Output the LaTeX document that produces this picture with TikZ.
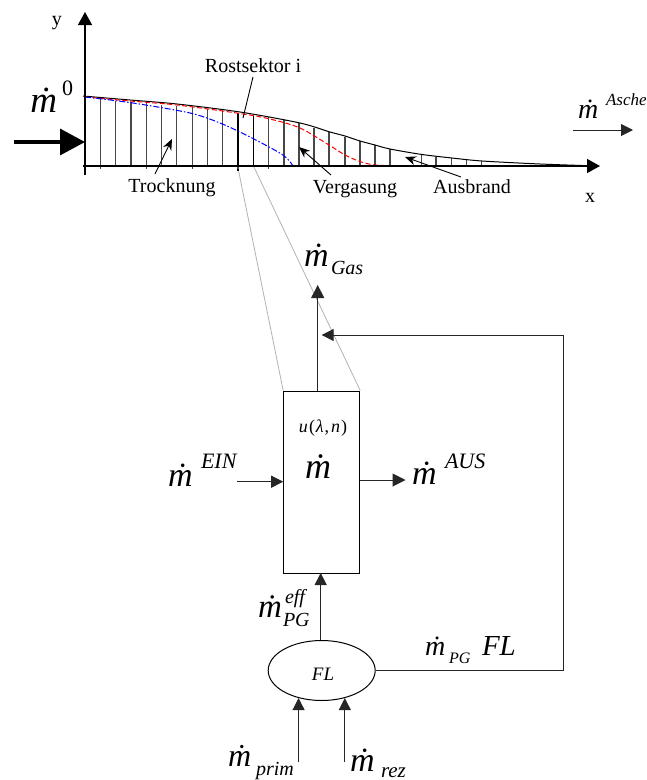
\documentclass[tikz,border=0pt]{standalone}
\usepackage{fontspec}
\setmainfont{Liberation Serif}
\usetikzlibrary{arrows.meta,shapes.geometric}
\newcommand{\fs}[1]{\fontsize{#1}{#1}\selectfont}
\newcommand{\mdt}[1]{{\fs{#1}\textit{\.{m}}}}
\tikzset{
  lbl/.style={anchor=base west,inner sep=0pt,outer sep=0pt},
  txt/.style={anchor=base,inner sep=0pt},
  ln/.style={line width=1pt,black!85},
  arr/.style={ln,-{Triangle[length=12pt,width=12pt]}},
  axisl/.style={line width=1.4pt,black,-{Triangle[length=13pt,width=14pt]}},
  tickl/.style={line width=1.15pt,black!72},
  thin1/.style={line width=0.9pt,black,-{Stealth[length=11pt,width=9pt]}},
  gry/.style={line width=0.8pt,black!30},
}
\begin{document}
\begin{tikzpicture}[x=1pt,y=-1pt]
\useasboundingbox (0,0) rectangle (647,780);
% axes
\coordinate (ystart) at (85,175);
\coordinate (ytip) at (85,12);
\coordinate (xstart) at (83,166);
\coordinate (xtip) at (600,166);
% gray zoom lines
\coordinate (s1) at (238,168);
\coordinate (s2) at (253,165);
\node[draw=black,line width=1pt,minimum width=76pt,minimum height=182pt,inner sep=0pt] (box) at (321.7,482) {};
\draw[gry] (s1) -- (box.north west);
\draw[gry] (s2) -- (box.north east);
% ticks
\foreach \x/\t in {100.4/99,115.7/101,131/102,146.3/103,161.6/104.5,176.9/106,192.2/107,207.5/108.5,222.8/110,299/123,314/127.5,329/132,345/136.5,360/141,375/145,390/149,421.7/154.5,436/156.5,451.7/158,466.7/159.5,481.7/161}{
  \draw[tickl] (\x,166) -- (\x,\t);
}
\draw[line width=1.6pt,black] (238,171) -- (238,113);
\draw[line width=1.6pt,black] (253.3,166) -- (253.3,116);
\draw[tickl] (268.7,166) -- (268.7,117);
\draw[tickl] (284,166) -- (284,120);
\foreach \x in {100.4,146.3,192.2,238,268.7}{\draw[tickl] (\x,166) -- (\x,169);}
% curves
\draw[line width=1pt,black] plot[smooth,tension=0.5] coordinates {(83,96) (130,100) (177,104) (240,112) (300,123) (330,132) (345,136) (360,141) (375,145) (390,149) (422,154.5) (452,158) (482,161) (540,164) (598,166)};
\draw[line width=1pt,red,dash pattern=on 5pt off 2.5pt] plot[smooth,tension=0.5] coordinates {(85,97) (130,101) (177,105) (240,113.5) (270,119) (300,128) (329,145) (345,155) (360,161.5) (375,165) (402,166)};
\draw[line width=1pt,blue,dash pattern=on 6pt off 2pt on 1.5pt off 2pt] plot[smooth,tension=0.5] coordinates {(85,97) (133,103) (190,113) (220,123) (250,137) (283,155) (293,166)};
\draw[axisl] (xstart) -- (xtip);
\draw[axisl] (ystart) -- (ytip);
% axis labels
\node[txt] (ylab) at (57,25) {\fs{20}y};
\node[txt] (xlab) at (590,202) {\fs{20}x};
% feed arrow
\coordinate (feedstart) at (14,142);
\coordinate (feedtip) at (85,142);
\draw[line width=3.4pt,-{Triangle[length=25pt,width=26pt]}] (feedstart) -- (feedtip);
% text labels with leaders
\node[txt] (rost) at (253,72) {\fs{20}Rostsektor i};
\coordinate (rostend) at (243,118);
\coordinate (roststart) at (253,77);
\draw[line width=0.9pt] (roststart) -- (rostend);
\node[txt] (trock) at (172,192) {\fs{20}Trocknung};
\coordinate (trocktip) at (172,139);
\coordinate (trockfrom) at (155,174);
\draw[thin1] (trockfrom) -- (trocktip);
\node[txt] (verg) at (355,193) {\fs{20}Vergasung};
\coordinate (vergtip) at (299,147);
\coordinate (vergfrom) at (331,175);
\draw[thin1] (vergfrom) -- (vergtip);
\node[txt] (ausb) at (472,193) {\fs{20}Ausbrand};
\coordinate (ausbtip) at (405,157);
\coordinate (ausbfrom) at (461,177);
\draw[thin1] (ausbfrom) -- (ausbtip);
% mass labels top
\node[lbl] (m0) at (30.5,112) {\mdt{37}};
\node[lbl] (m0s) at (62,95) {\fs{22}0};
\node[lbl] (mA) at (578,118) {\mdt{28}};
\node[lbl] (mAs) at (606,105) {\fs{17}\textit{Asche}};
\coordinate (ascheS) at (573,130);
\coordinate (ascheT) at (633,130);
\draw[arr] (ascheS) -- (ascheT);
% block
\node[lbl] (mbox) at (305,478) {\mdt{36}};
\node[anchor=base,inner sep=0pt] (ulab) at (323,432) {\fs{18}\textit{u}\kern1.3pt(\kern0.8pt\textit{λ}\kern1pt,\kern2pt \textit{n}\kern1pt)};
% gas
\coordinate (gastip) at (317.7,285);
\draw[ln,-{Triangle[length=13pt,width=13pt]}] (box.north -| gastip) -- (gastip);
\node[lbl] (mG) at (304,266) {\mdt{34}};
\node[lbl] (mGs) at (331,274) {\fs{20}\textit{Gas}};
% in / out
\coordinate (einS) at (237,481.7);
\draw[arr] (einS) -- (einS -| box.west);
\node[lbl] (mE) at (168,486) {\mdt{34}};
\node[lbl] (mEs) at (201,468) {\fs{22}\textit{EIN}};
\coordinate (ausT) at (405.5,480);
\draw[ln,-{Triangle[length=13pt,width=13pt]}] (ausT -| box.east) -- (ausT);
\node[lbl] (mAu) at (412,484) {\mdt{34}};
\node[lbl] (mAus) at (445,468) {\fs{22}\textit{AUS}};
% ellipse
\node[draw=black,line width=1pt,ellipse,minimum width=107pt,minimum height=60pt,inner sep=0pt] (fl) at (321.7,670.5) {};
\node[anchor=base,inner sep=0pt] (fltxt) at (323,680) {\fs{19}\textit{FL}};
\draw[arr] (fl.north -| 320.7,0) -- (320.7,573);
\node[lbl] (mP) at (258,617) {\mdt{33}};
\node[lbl] (mPe) at (285,603) {\fs{20}\textit{eff}};
\node[lbl] (mPg) at (283,626) {\fs{20}\textit{PG}};
% feedback
\coordinate (corner1) at (563,670.5);
\coordinate (corner2) at (563,335);
\coordinate (fbtip) at (321.7,335);
\draw[ln,-{Triangle[length=12pt,width=12pt]}] (fl.east) -- (corner1) -- (corner2) -- (fbtip);
\node[lbl] (mF) at (425,655) {\mdt{28}};
\node[lbl] (mFs) at (449,663) {\fs{16}\textit{PG}};
\node[lbl] (mFl) at (482,655) {\fs{29}\textit{FL}};
% bottom
\coordinate (pS) at (298.7,762);
\coordinate (rS) at (344,762);
\draw[arr] (fl.230 |- pS) -- (fl.230);
\draw[arr] (fl.310 |- rS) -- (fl.310);
\node[lbl] (mPr) at (228,766) {\mdt{32}};
\node[lbl] (mPrs) at (256,775) {\fs{20}\textit{prim}};
\node[lbl] (mR) at (350,771) {\mdt{34}};
\node[lbl] (mRs) at (381,777) {\fs{21}\textit{rez}};
\end{tikzpicture}
\end{document}
